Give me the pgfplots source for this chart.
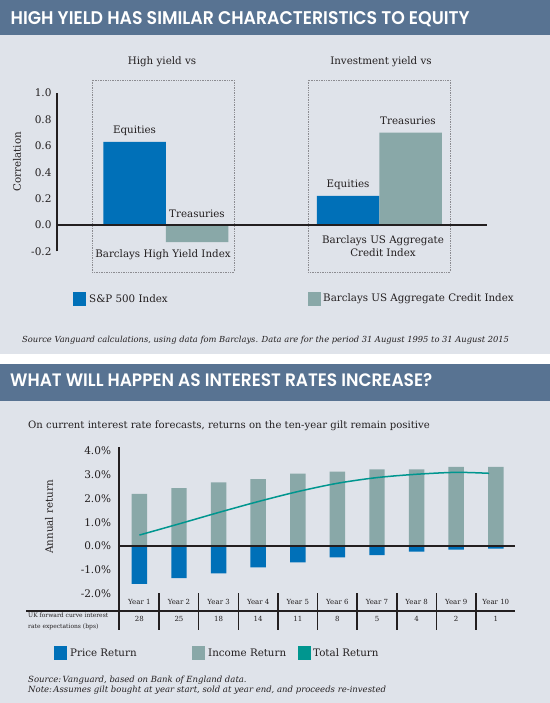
\documentclass[border=0pt]{standalone}
\usepackage{pgfplots}
\pgfplotsset{compat=1.18}
\usepackage{fontspec}
\usepackage{graphicx}
\setmainfont{DejaVu Serif}
\newfontfamily\titlefont{Poppins}[BoldFont={Poppins SemiBold}]
\definecolor{hdr}{RGB}{88,115,146}
\definecolor{bgc}{RGB}{223,227,234}
\definecolor{cblue}{RGB}{0,112,184}
\definecolor{cgrey}{RGB}{137,168,168}
\definecolor{cteal}{RGB}{0,150,143}
\definecolor{ink}{RGB}{35,31,32}
\definecolor{dotc}{RGB}{140,140,145}
\newcommand{\fs}[2]{\fontsize{#1bp}{#2bp}\selectfont}
\pgfplotsset{/pgf/number format/assume math mode=true}
\begin{document}
\begin{tikzpicture}[x=1bp,y=1bp, lab/.style={text=ink, inner sep=0pt}]
\useasboundingbox (0,0) rectangle (550,703);
\fill[white] (0,0) rectangle (550,703);
\fill[bgc] (0,349) rectangle (550,703);
\fill[hdr] (0,668) rectangle (550,703);
\fill[bgc] (0,0) rectangle (550,339);
\fill[hdr] (0,302) rectangle (550,339);
% titles
\node[anchor=base west, inner sep=0pt, text=white] at (10.5,678.4)
  {\resizebox{459bp}{13bp}{\titlefont\bfseries HIGH YIELD HAS SIMILAR CHARACTERISTICS TO EQUITY}};
\node[anchor=base west, inner sep=0pt, text=white] at (10,316)
  {\resizebox{422bp}{13bp}{\titlefont\bfseries WHAT WILL HAPPEN AS INTEREST RATES INCREASE?}};

% ---------- panel 1 ----------
\draw[dotc, line width=0.7bp, dash pattern=on 0.8bp off 0.9bp] (92,623) rectangle (234,431);
\draw[dotc, line width=0.7bp, dash pattern=on 0.8bp off 0.9bp] (308,623) rectangle (450,431);
\begin{axis}[at={(57bp,451.6bp)}, anchor=south west, scale only axis,
  width=430bp, height=158.4bp, xmin=57, xmax=487, ymin=-0.2, ymax=1.0,
  axis x line=none, axis y line*=left, clip=false,
  y axis line style={line width=1.5bp, ink},
  ytick={-0.2,0,0.2,0.4,0.6,0.8,1.0}, major tick length=0pt,
  y tick label style={font=\fs{10.5}{12}, text=ink, xshift=-2bp,
    /pgf/number format/fixed, /pgf/number format/fixed zerofill, /pgf/number format/precision=1}]
\addplot[ybar, bar width=62.5, bar shift=0pt, fill=cblue, draw=none] coordinates {(134.5,0.63) (348,0.22)};
\addplot[ybar, bar width=62.5, bar shift=0pt, fill=cgrey, draw=none] coordinates {(197,-0.13) (410.5,0.70)};
\draw[ink, line width=1.3bp] (axis cs:57,0) -- (axis cs:487,0);
\end{axis}
\begin{scope}[every node/.style={lab, font=\fs{10.3}{13}}]
\node at (162,641) {High yield vs};
\node at (381,641) {Investment yield vs};
\node[rotate=90] at (17,541) {Correlation};
\node at (134.5,572) {Equities};
\node at (197,489) {Treasuries};
\node at (163,448) {Barclays High Yield Index};
\node at (408,582) {Treasuries};
\node at (348,518) {Equities};
\node[align=center] at (383,456.5) {Barclays US Aggregate\\Credit Index};
\end{scope}
% legend 1
\fill[cblue] (73,397) rectangle (86,411);
\node[lab, anchor=west, font=\fs{10.3}{13}] at (89,404) {S\&P 500 Index};
\fill[cgrey] (308,397) rectangle (321,411);
\node[lab, anchor=west, font=\fs{10.3}{13}] at (323,404) {Barclays US Aggregate Credit Index};
\node[lab, anchor=west, font=\fs{8.33}{10}\itshape] at (22,363) {Source Vanguard calculations, using data fom Barclays. Data are for the period 31 August 1995 to 31 August 2015};

% ---------- panel 2 ----------
\node[lab, anchor=west, font=\fs{10.1}{12}] at (28,277) {On current interest rate forecasts, returns on the ten-year gilt remain positive};
\begin{axis}[at={(119bp,73bp)}, anchor=south west, scale only axis,
  width=396bp, height=183bp, xmin=0.485, xmax=10.485, ymin=-3.537, ymax=4.168,
  axis x line=none, axis y line*=left, clip=false,
  y axis line style={line width=1.5bp, ink},
  ytick={-2,-1,0,1,2,3,4}, major tick length=0pt,
  yticklabel={\pgfmathprintnumber[fixed,fixed zerofill,precision=1]{\tick}\%},
  y tick label style={font=\fs{10.5}{12}, text=ink, xshift=-4.5bp}]
\addplot[ybar, bar width=0.39, bar shift=0pt, fill=cgrey, draw=none] coordinates {
 (1,2.19) (2,2.44) (3,2.68) (4,2.82) (5,3.05) (6,3.13) (7,3.23) (8,3.23) (9,3.33) (10,3.33)};
\addplot[ybar, bar width=0.39, bar shift=0pt, fill=cblue, draw=none] coordinates {
 (1,-1.60) (2,-1.35) (3,-1.15) (4,-0.90) (5,-0.69) (6,-0.48) (7,-0.38) (8,-0.24) (9,-0.15) (10,-0.11)};
\draw[ink, line width=1.4bp] (axis cs:0.485,0) -- (axis cs:10.485,0);
\addplot[cteal, line width=1.5bp, smooth, no marks] coordinates {
 (1,0.46) (2,0.93) (3,1.41) (4,1.87) (5,2.29) (6,2.64) (7,2.88) (8,3.02) (9,3.10) (9.83,3.06)};
\end{axis}
\node[lab, rotate=90, font=\fs{10.3}{13}] at (49,186) {Annual return};
% table
\draw[ink, line width=1.3bp] (26,92) -- (515,92);
\foreach \i in {1,...,9} {
  \pgfmathsetmacro\sx{119+(\i+0.015)*39.6}
  \draw[ink, line width=1.4bp] (\sx,73) -- (\sx,109.5);
}
\foreach \i/\v in {1/28,2/25,3/18,4/14,5/11,6/8,7/5,8/4,9/2,10/1} {
  \pgfmathsetmacro\cx{119+(\i-0.485)*39.6}
  \node[lab, font=\fs{7}{8}] at (\cx,101.4) {Year \i};
  \node[lab, font=\fs{7}{8}] at (\cx,84) {\v};
}
\node[lab, anchor=west, font=\fs{6}{11.4}, align=left] at (28,81.7) {UK forward curve interest\\rate expectations (bps)};
% legend 2
\fill[cblue] (54,43) rectangle (67,57);
\node[lab, anchor=west, font=\fs{10.3}{13}] at (70,50.5) {Price Return};
\fill[cgrey] (192,43) rectangle (205,57);
\node[lab, anchor=west, font=\fs{10.3}{13}] at (208,50.5) {Income Return};
\fill[cteal] (298,43) rectangle (311,57);
\node[lab, anchor=west, font=\fs{10.3}{13}] at (313,50.5) {Total Return};
% notes
\node[lab, anchor=west, font=\fs{8.5}{10.7}\itshape, align=left] at (28,17.7)
 {Source:\,Vanguard, based on Bank of England data.\\Note:\,Assumes gilt bought at year start, sold at year end, and proceeds re-invested};
\end{tikzpicture}
\end{document}
